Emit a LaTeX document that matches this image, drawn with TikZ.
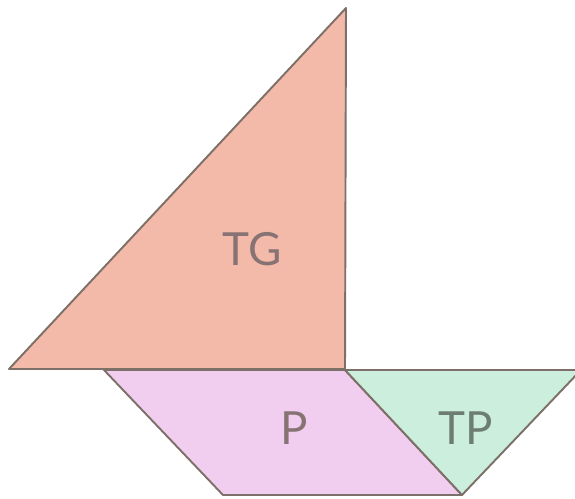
\documentclass[tikz,border=0pt]{standalone}
\usepackage{fontspec}
\newfontfamily\piecefont{Lato}
\definecolor{edgegray}{RGB}{125,112,104}
\definecolor{tgfill}{RGB}{243,186,170}
\definecolor{pfill}{RGB}{241,206,240}
\definecolor{tpfill}{RGB}{204,238,220}
\definecolor{labelgray}{RGB}{135,115,115}
\definecolor{labelgreen}{RGB}{110,125,115}

\begin{document}
\begin{tikzpicture}[
    x=0.02cm, y=-0.02cm,
    piece/.style={draw=edgegray, line width=1.1pt, line join=round},
    piecelabel/.style={font=\piecefont\fontsize{26}{26}\selectfont, text=labelgray, inner sep=0pt}
]
\clip (0,0) rectangle (575,499);
% large triangle
\filldraw[piece, fill=tgfill] (346,8) -- (9,369) -- (345,369) -- cycle;
% parallelogram
\filldraw[piece, fill=pfill] (104,370) -- (345,370) -- (462,495) -- (223,495) -- cycle;
% small triangle
\filldraw[piece, fill=tpfill] (345,370) -- (581,370) -- (462,495) -- cycle;
\node[piecelabel] (tg) at (252,249) {TG};
\node[piecelabel] (p) at (294,428) {P};
\node[piecelabel, text=labelgreen] (tp) at (466,428) {TP};
\end{tikzpicture}
\end{document}
